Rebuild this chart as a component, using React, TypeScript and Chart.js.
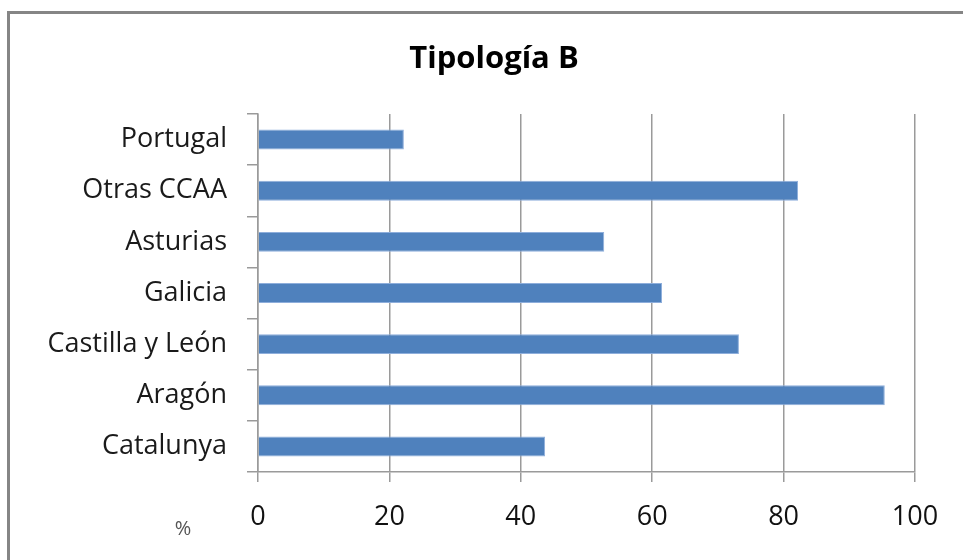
import React, { useEffect, useRef } from "react";
import { Chart, registerables } from "chart.js";

Chart.register(...registerables);

const categories = ["Portugal", "Otras CCAA", "Asturias", "Galicia", "Castilla y León", "Aragón", "Catalunya"];
const values = [22.2, 82.2, 52.7, 61.5, 73.2, 95.4, 43.7];
const xTicks = [0, 20, 40, 60, 80, 100];
const titleText = "Tipología B";
const unitLabel = "%";

const FONT = "'Open Sans', 'Noto Sans', sans-serif";

export default function App() {
  const ref = useRef<HTMLCanvasElement | null>(null);

  useEffect(() => {
    document.body.style.margin = "0";
    const canvas = ref.current;
    if (!canvas) return;

    const textPlugin = {
      id: "extraText",
      afterDraw(chart: any) {
        const ctx = chart.ctx;
        ctx.save();
        ctx.font = `bold 31px ${FONT}`;
        ctx.fillStyle = "#000000";
        ctx.textAlign = "center";
        ctx.textBaseline = "alphabetic";
        ctx.fillText(titleText, 494, 68);
        ctx.font = `20px ${FONT}`;
        ctx.fillStyle = "#555555";
        ctx.textBaseline = "middle";
        ctx.fillText(unitLabel, 183, 529);
        ctx.restore();
      },
    };

    const chart = new Chart(canvas, {
      type: "bar",
      data: {
        labels: categories,
        datasets: [
          {
            data: values,
            backgroundColor: "#4F81BD",
            borderColor: "#8EAEDB",
            borderWidth: 1,
            barPercentage: 0.39,
            categoryPercentage: 1,
          },
        ],
      },
      options: {
        indexAxis: "y",
        animation: false,
        responsive: false,
        maintainAspectRatio: false,
        devicePixelRatio: 1,
        layout: { padding: { left: 0, right: 48, top: 114, bottom: 0 } },
        plugins: {
          legend: { display: false },
          tooltip: { enabled: false },
          title: { display: false },
        },
        scales: {
          x: {
            min: 0,
            max: 100,
            afterBuildTicks(scale: any) {
              scale.ticks = xTicks.map((v) => ({ value: v }));
            },
            afterFit(scale: any) {
              scale.height = 88;
            },
            grid: {
              color: "#9a9a9a",
              lineWidth: 1.5,
              drawTicks: true,
              tickLength: 10,
              tickColor: "#9a9a9a",
            },
            border: { display: true, color: "#9a9a9a", width: 1.5 },
            ticks: {
              color: "#111111",
              font: { family: FONT, size: 27 },
              padding: 19,
            },
          },
          y: {
            afterFit(scale: any) {
              scale.width = 258;
            },
            grid: {
              drawOnChartArea: false,
              drawTicks: true,
              tickLength: 11,
              offset: true,
              color: "#9a9a9a",
              lineWidth: 1.5,
            },
            border: { display: true, color: "#9a9a9a", width: 1.5 },
            ticks: {
              color: "#1a1a1a",
              font: { family: FONT, size: 27 },
              padding: 20,
            },
          },
        },
      },
      plugins: [textPlugin],
    });

    return () => chart.destroy();
  }, []);

  return (
    <div style={{ position: "fixed", left: 0, top: 0, width: 963, height: 560, background: "#fff", overflow: "hidden" }}>
      <canvas ref={ref} width={963} height={560} style={{ position: "absolute", left: 0, top: 0, width: 963, height: 560 }} />
      <div
        style={{
          position: "absolute",
          left: 7,
          top: 11,
          width: 1000,
          height: 700,
          border: "3px solid #858585",
          boxSizing: "border-box",
          pointerEvents: "none",
        }}
      />
    </div>
  );
}
